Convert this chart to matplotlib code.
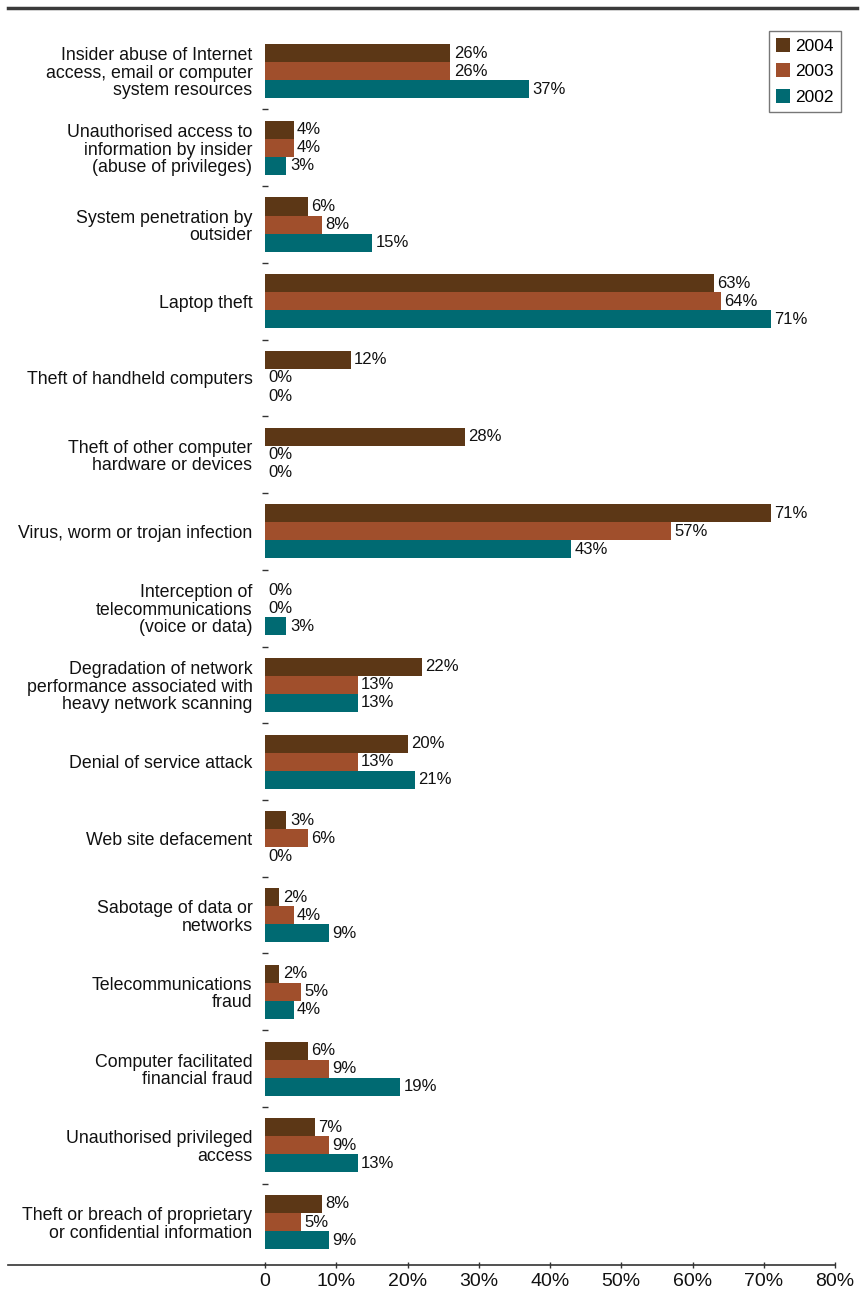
import matplotlib
matplotlib.use("Agg")
import matplotlib.pyplot as plt
from matplotlib.lines import Line2D
from matplotlib.patches import Patch
import numpy as np

plt.rcParams["font.family"] = ["Liberation Sans", "DejaVu Sans"]

categories = [
    "Insider abuse of Internet\naccess, email or computer\nsystem resources",
    "Unauthorised access to\ninformation by insider\n(abuse of privileges)",
    "System penetration by\noutsider",
    "Laptop theft",
    "Theft of handheld computers",
    "Theft of other computer\nhardware or devices",
    "Virus, worm or trojan infection",
    "Interception of\ntelecommunications\n(voice or data)",
    "Degradation of network\nperformance associated with\nheavy network scanning",
    "Denial of service attack",
    "Web site defacement",
    "Sabotage of data or\nnetworks",
    "Telecommunications\nfraud",
    "Computer facilitated\nfinancial fraud",
    "Unauthorised privileged\naccess",
    "Theft or breach of proprietary\nor confidential information",
]
years = ["2004", "2003", "2002"]
v2004 = [26, 4, 6, 63, 12, 28, 71, 0, 22, 20, 3, 2, 2, 6, 7, 8]
v2003 = [26, 4, 8, 64, 0, 0, 57, 0, 13, 13, 6, 4, 5, 9, 9, 5]
v2002 = [37, 3, 15, 71, 0, 0, 43, 3, 13, 21, 0, 9, 4, 19, 13, 9]
x_ticks = [0, 10, 20, 30, 40, 50, 60, 70, 80]
x_tick_labels = ["0", "10%", "20%", "30%", "40%", "50%", "60%", "70%", "80%"]

colors = ["#5c3716", "#a04f2c", "#006a72"]
series = [v2004, v2003, v2002]

W, H = 864, 1292
fig = plt.figure(figsize=(W / 100, H / 100), dpi=100)
ax_left, ax_right = 265 / W, 835 / W
ax_bottom, ax_top = 1 - 1265 / H, 1 - 33 / H
ax = fig.add_axes([ax_left, ax_bottom, ax_right - ax_left, ax_top - ax_bottom])

n = len(categories)
pos = np.arange(n)
bh = 0.235
offsets = [-bh, 0, bh]

for vals, col, off, yr in zip(series, colors, offsets, years):
    ax.barh(pos + off, vals, height=bh, color=col, label=yr, linewidth=0)
    for p, v in zip(pos, vals):
        ax.annotate(f"{v}%", xy=(v, p + off), xytext=(2.5, 0),
                    textcoords="offset points", va="center", ha="left",
                    fontsize=12, color="#111111")

ax.set_xlim(0, 80)
ax.set_ylim(n - 1 + 0.56, -0.496)

ax.set_yticks(pos)
ax.set_yticklabels(categories, fontsize=12.8, color="#111111", ha="right",
                   linespacing=1.04)
ax.tick_params(axis="y", which="major", length=0, pad=9)
ax.set_yticks(pos[:-1] + 0.5, minor=True)
ax.tick_params(axis="y", which="minor", length=4, width=1, direction="inout",
               color="#333333")

ax.set_xticks(x_ticks)
ax.set_xticklabels(x_tick_labels, fontsize=14, color="#111111")
ax.tick_params(axis="x", length=5, width=1, direction="inout", pad=3,
               color="#333333")

for s in ["top", "right", "left"]:
    ax.spines[s].set_visible(False)
ax.spines["bottom"].set_color("#333333")
ax.spines["bottom"].set_linewidth(1.2)

# extend the baseline to the left margin, and the rule at the top
fig.add_artist(Line2D([8 / W, ax_left], [1 - 1265 / H] * 2, color="#333333",
                      lw=1.2, transform=fig.transFigure))
fig.add_artist(Line2D([8 / W, 857 / W], [1 - 8 / H] * 2, color="#3a3a3a",
                      lw=2.5, transform=fig.transFigure))

handles = [Patch(facecolor=c, edgecolor="none") for c in colors]
leg = fig.legend(handles, years, loc="upper right",
                 bbox_to_anchor=(841 / W, 1 - 31 / H), fontsize=12.5,
                 frameon=True, fancybox=False, edgecolor="#555555",
                 handlelength=0.85, handleheight=0.85, handletextpad=0.3,
                 labelspacing=0.55, borderpad=0.4, borderaxespad=0)
leg.get_frame().set_linewidth(1.0)

fig.savefig("out.png", dpi=100, facecolor="white")
